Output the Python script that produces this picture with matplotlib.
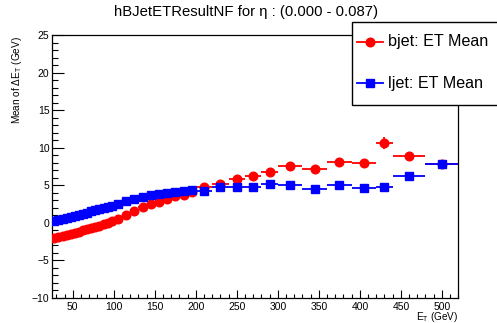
# ROOT-style profile plot: mean Delta E_T vs E_T for b-jets and light jets
import matplotlib
matplotlib.use('Agg')
import matplotlib.pyplot as plt
from matplotlib.patches import Rectangle
from matplotlib.lines import Line2D
from matplotlib.ticker import MultipleLocator
import numpy as np

# Data
bin_edges = [25, 30, 35, 40, 45, 50, 55, 60, 65, 70, 75, 80, 85, 90, 95, 100,
             110, 120, 130, 140, 150, 160, 170, 180, 190, 200,
             220, 240, 260, 280, 300, 330, 360, 390, 420, 440, 480, 520]

bjet_mean = [-2.1, -1.95, -1.8, -1.65, -1.5, -1.35, -1.2, -1.0, -0.85, -0.7,
             -0.55, -0.4, -0.2, 0.0, 0.2,
             0.51, 1.04, 1.53, 2.02, 2.45, 2.8, 3.1, 3.5, 3.73, 4.1,
             4.72, 5.1, 5.85, 6.24, 6.73,
             7.53, 7.17, 8.02, 7.89,
             10.55, 8.91, 7.85]
bjet_err = [0.05, 0.05, 0.05, 0.05, 0.05, 0.05, 0.05, 0.05, 0.05, 0.05,
            0.05, 0.05, 0.05, 0.05, 0.05,
            0.05, 0.05, 0.05, 0.06, 0.06, 0.07, 0.07, 0.08, 0.08, 0.09,
            0.1, 0.12, 0.14, 0.15, 0.18,
            0.2, 0.22, 0.25, 0.3,
            0.8, 0.4, 0.3]

ljet_mean = [0.25, 0.35, 0.45, 0.6, 0.75, 0.9, 1.05, 1.2, 1.35, 1.5,
             1.65, 1.8, 1.95, 2.1, 2.25,
             2.55, 2.85, 3.1, 3.35, 3.67, 3.8, 3.97, 4.07, 4.2, 4.33,
             4.2, 4.69, 4.69, 4.69, 5.09,
             4.96, 4.51, 4.96, 4.64,
             4.69, 6.16, 7.76]
ljet_err = [0.03, 0.03, 0.03, 0.03, 0.03, 0.03, 0.03, 0.03, 0.03, 0.03,
            0.03, 0.03, 0.03, 0.03, 0.03,
            0.03, 0.03, 0.04, 0.04, 0.04, 0.05, 0.05, 0.05, 0.06, 0.06,
            0.07, 0.08, 0.09, 0.1, 0.11,
            0.12, 0.13, 0.15, 0.17,
            0.2, 0.2, 0.2]

plt.rcParams['font.family'] = ['Liberation Sans', 'DejaVu Sans']
plt.rcParams['mathtext.default'] = 'regular'

edges = np.array(bin_edges, dtype=float)
centers = 0.5 * (edges[1:] + edges[:-1])
half_widths = 0.5 * (edges[1:] - edges[:-1])

W, H = 497, 323
fig = plt.figure(figsize=(W / 100, H / 100), dpi=100)
ax = fig.add_axes([52.3 / W, 1 - 297.7 / H, 406 / W, 262.7 / H])

ax.errorbar(centers, bjet_mean, xerr=half_widths, yerr=bjet_err, fmt='o',
            color='#ff0000', markersize=6.2, elinewidth=1.3, capsize=0, zorder=3)
ax.errorbar(centers, ljet_mean, xerr=half_widths, yerr=ljet_err, fmt='s',
            color='#0000ff', markersize=5.6, elinewidth=1.3, capsize=0, zorder=4)

ax.set_xlim(25, 520)
ax.set_ylim(-10, 25)
ax.xaxis.set_major_locator(MultipleLocator(50))
ax.xaxis.set_minor_locator(MultipleLocator(10))
ax.yaxis.set_major_locator(MultipleLocator(5))
ax.yaxis.set_minor_locator(MultipleLocator(1))
ax.tick_params(axis='both', which='both', direction='in', labelsize=7.5,
               top=False, right=False, width=0.8, colors='black')
ax.tick_params(axis='x', which='major', length=5.8, pad=3)
ax.tick_params(axis='x', which='minor', length=2.9)
ax.tick_params(axis='y', which='major', length=8.4, pad=2)
ax.tick_params(axis='y', which='minor', length=4.3)
for s in ax.spines.values():
    s.set_linewidth(0.9)

# titles and axis labels (ROOT puts them at the axis ends)
fig.text(246.5 / W, 1 - 12 / H, 'hBJetETResultNF for \u03b7 : (0.000 - 0.087)',
         ha='center', va='center', fontsize=10.7)
fig.text(17 / W, 1 - 36 / H, 'Mean of \u0394E$_{T}$ (GeV)', rotation=90,
         ha='center', va='top', fontsize=7.2)
fig.text(458.5 / W, 1 - 317.5 / H, 'E$_{T}$ (GeV)', ha='right', va='center',
         fontsize=7.2)

# legend box drawn by hand; it runs off the right edge like the original
fig.patches.append(Rectangle((351.7 / W, 1 - 105 / H), 160 / W, 83.3 / H,
                             transform=fig.transFigure, facecolor='white',
                             edgecolor='black', linewidth=1.0, zorder=10))
entries = [('bjet: ET Mean', '#ff0000', 'o', 6.2, 41.5),
           ('ljet: ET Mean', '#0000ff', 's', 5.6, 83)]
for label, col, mk, ms, ypx in entries:
    yy = 1 - ypx / H
    fig.add_artist(Line2D([357 / W, 383 / W], [yy, yy], transform=fig.transFigure,
                          color=col, linewidth=1.3, zorder=11))
    fig.add_artist(Line2D([370 / W], [yy], transform=fig.transFigure, marker=mk,
                          color=col, markersize=ms, linestyle='none', zorder=12))
    fig.text(388 / W, yy, label, ha='left', va='center', fontsize=11.6, zorder=12)

fig.savefig('out.png', dpi=100)
